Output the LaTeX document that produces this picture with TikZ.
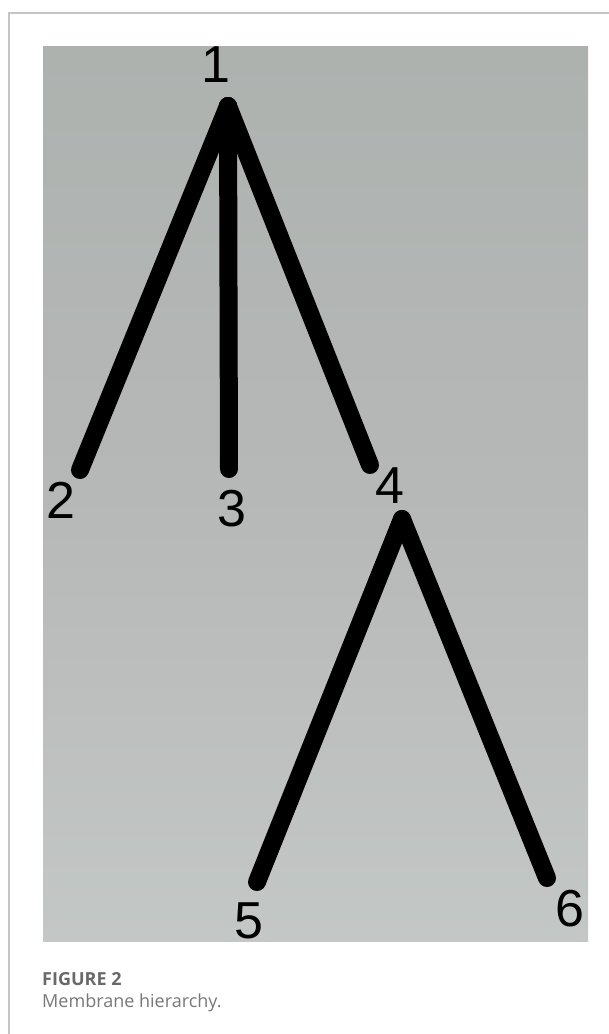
\documentclass[tikz,border=0pt]{standalone}
\usepackage{fontspec}
\setmainfont{Liberation Sans}
\newfontfamily\capfont{Open Sans}
\begin{document}
\begin{tikzpicture}[x=1pt,y=-1pt,
  edge/.style={line width=18pt,line cap=round,line join=round,black},
  lbl/.style={inner sep=0pt,font=\fontsize{52}{52}\selectfont,text=black},
  frame/.style={draw=black!23,line width=1.5pt}]
\useasboundingbox (0,0) rectangle (609,1034);
\fill[white] (0,0) rectangle (609,1034);
% frame
\draw[frame] (9,1034) -- (9,13) -- (609,13);
% background panel
\shade[top color={rgb,255:red,173;green,178;blue,175},
       bottom color={rgb,255:red,195;green,199;blue,198},
       middle color={rgb,255:red,182;green,184;blue,183}]
  (43,46) rectangle (588,941);
% endpoints
\coordinate (p1) at (228,106);
\coordinate (p2) at (80,470);
\coordinate (p3) at (229,469);
\coordinate (p4) at (370,465);
\coordinate (q4) at (402,519);
\coordinate (p5) at (257,882);
\coordinate (p6) at (547,878);
% connectors
\draw[edge] (p1) -- (p2);
\draw[edge] (p1) -- (p3);
\draw[edge] (p1) -- (p4);
\draw[edge] (q4) -- (p5);
\draw[edge] (q4) -- (p6);
% labels
\node[lbl] (l1) at (216,65) {1};
\node[lbl] (l2) at (61,500) {2};
\node[lbl] (l3) at (232,509) {3};
\node[lbl] (l4) at (390,486) {4};
\node[lbl] (l5) at (249,921) {5};
\node[lbl] (l6) at (570,909) {6};
% caption
\node[anchor=base west,inner sep=0pt,text={rgb,255:red,105;green,105;blue,105},
  font=\capfont\fontsize{18}{18}\selectfont\bfseries] (cap1) at (42,985) {FIGURE 2};
\node[anchor=base west,inner sep=0pt,text={rgb,255:red,120;green,120;blue,120},
  font=\capfont\fontsize{18}{18}\selectfont] (cap2) at (42,1007) {Membrane hierarchy.};
\end{tikzpicture}
\end{document}
